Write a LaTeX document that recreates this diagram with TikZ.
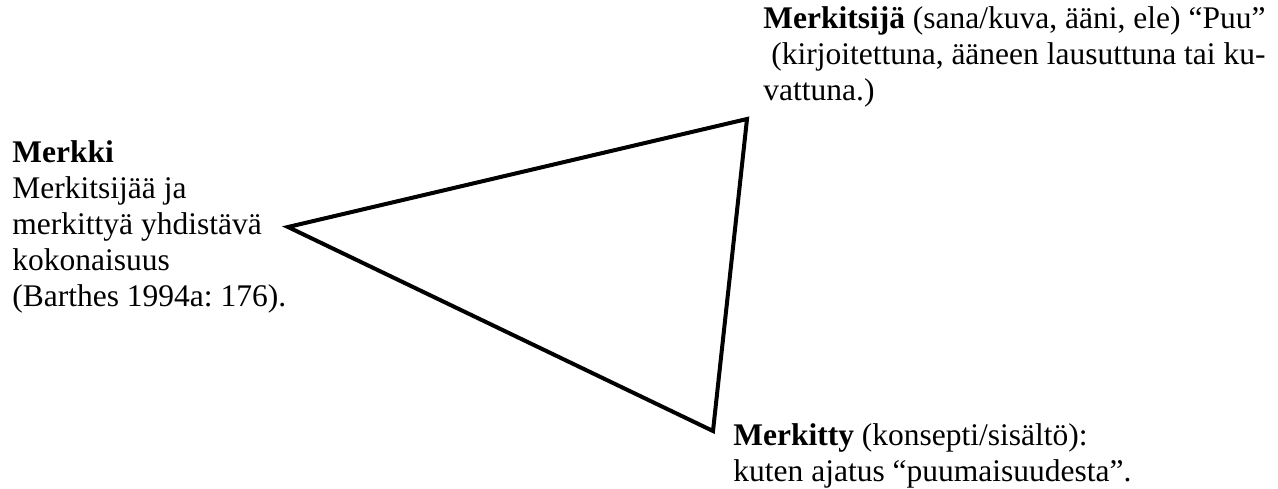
\documentclass[tikz,border=0pt]{standalone}
\usepackage{fontspec}
\setmainfont{Liberation Serif}
\usepackage{tikz}
\usetikzlibrary{positioning}
\frenchspacing
\tikzstyle{term} = [
    align=left, inner sep=0pt, anchor=base west,
    font=\fontsize{15.75}{18}\selectfont
]
\tikzstyle{edge} = [line width=2pt, line join=miter, black]
\begin{document}
\begin{tikzpicture}[x=0.5pt, y=-0.5pt]
    \useasboundingbox (0,0) rectangle (1278,488);
    % Corners of the triangle
    \coordinate (sign) at (288,227);
    \coordinate (signifier) at (747,119);
    \coordinate (signified) at (713,431);
    % Texts (placed at the baseline of their last line)
    \node[term] (merkki) at (12,306) {\textbf{Merkki}\\Merkitsijää ja\\merkittyä yhdistävä\\kokonaisuus\\(Barthes 1994a: 176).};
    \node[term] (merkitsija) at (763,100) {\textbf{Merkitsijä} (sana/kuva, ääni, ele) “Puu”\\\hspace{0.25em}(kirjoitettuna, ääneen lausuttuna tai ku-\\vattuna.)};
    \node[term] (merkitty) at (733,481) {\textbf{Merkitty} (konsepti/sisältö):\\kuten ajatus “puumaisuudesta”.};
    % Triangle
    \draw[edge] (sign) -- (signifier) -- (signified) -- cycle;
\end{tikzpicture}
\end{document}
